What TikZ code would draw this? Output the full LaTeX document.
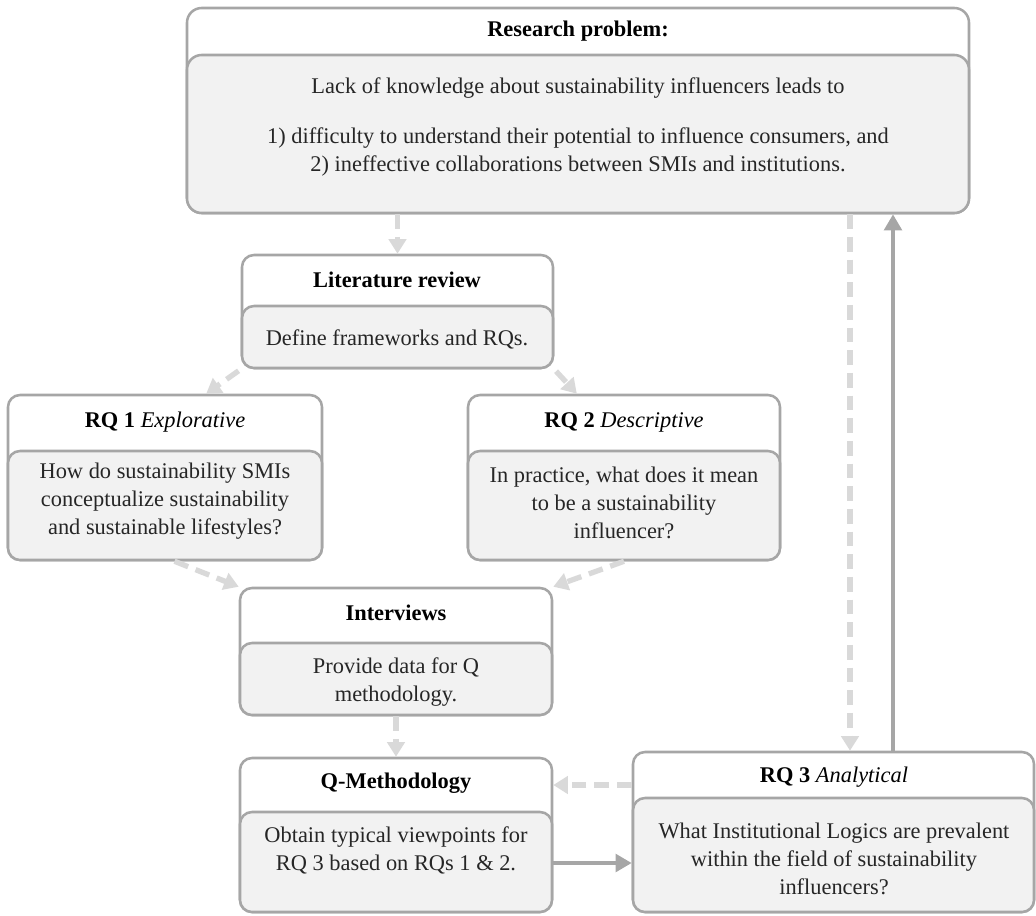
\documentclass[tikz,border=0pt]{standalone}
\usepackage{fontspec}
\setmainfont{Liberation Serif}
\usetikzlibrary{arrows.meta,calc,fit}

\definecolor{edge}{HTML}{A6A6A6}
\definecolor{panel}{HTML}{F2F2F2}
\definecolor{flow}{HTML}{D9D9D9}
\definecolor{ink}{HTML}{262626}

\tikzset{
  frame/.style={draw=edge, line width=1.9pt, rounded corners=9pt, fill=white, inner sep=0pt},
  panelbox/.style={frame, fill=panel},
  head/.style={font=\fontsize{16.8}{20}\selectfont, text=black, align=center, inner sep=0pt},
  body/.style={font=\fontsize{16.8}{21}\selectfont, text=ink, align=center, inner sep=0pt},
  softflow/.style={draw=flow, line width=4pt, dash pattern=on 11pt off 6pt,
    -{Triangle[length=11pt,width=13pt]}},
  hardflow/.style={draw=edge, line width=3.5pt, -{Triangle[length=12pt,width=13pt]}},
}

\begin{document}
\begin{tikzpicture}[x=0.75pt,y=-0.75pt]
\useasboundingbox (0,0) rectangle (1036,915);

% research problem
\node[frame, rounded corners=11pt, fit={(187,8) (969,213)}] (rp) {};
\node[panelbox, rounded corners=11pt, fit={(187,55) (969,213)}] (rpP) {};
\node[head] (rpT) at (578,31) {\textbf{Research problem:}};
\node[body] (rpA) at (578,88) {Lack of knowledge about sustainability influencers leads to};
\node[body] (rpB) at (578,152) {1) difficulty to understand their potential to influence consumers, and\\
  2) ineffective collaborations between SMIs and institutions.};

% literature review
\node[frame, fit={(242,255) (553,368)}] (lit) {};
\node[panelbox, fit={(242,306) (553,368)}] (litP) {};
\node[head] (litT) at (397,280) {\textbf{Literature review}};
\node[body] (litB) at (397,339) {Define frameworks and RQs.};

% RQ 1
\node[frame, fit={(8,395) (322,560)}] (rq1) {};
\node[panelbox, fit={(8,451) (322,560)}] (rq1P) {};
\node[head] (rq1T) at (165,422) {\textbf{RQ 1} \textit{Explorative}};
\node[body] (rq1B) at (165,501) {How do sustainability SMIs\\conceptualize sustainability\\and sustainable lifestyles?};

% RQ 2
\node[frame, fit={(468,395) (780,560)}] (rq2) {};
\node[panelbox, fit={(468,451) (780,560)}] (rq2P) {};
\node[head] (rq2T) at (624,422) {\textbf{RQ 2} \textit{Descriptive}};
\node[body] (rq2B) at (624,503) {In practice, what does it mean\\to be a sustainability\\influencer?};

% interviews
\node[frame, fit={(240,588) (552,715)}] (int) {};
\node[panelbox, fit={(240,643) (552,715)}] (intP) {};
\node[head] (intT) at (396,613) {\textbf{Interviews}};
\node[body] (intB) at (396,682) {Provide data for Q\\methodology.};

% Q-methodology
\node[frame, fit={(240,758) (552,912)}] (qm) {};
\node[panelbox, fit={(240,812) (552,912)}] (qmP) {};
\node[head] (qmT) at (396,783) {\textbf{Q-Methodology}};
\node[body] (qmB) at (396,850) {Obtain typical viewpoints for\\RQ 3 based on RQs 1 \& 2.};

% RQ 3
\node[frame, fit={(633,752) (1034,912)}] (rq3) {};
\node[panelbox, fit={(633,798) (1034,912)}] (rq3P) {};
\node[head] (rq3T) at (834,777) {\textbf{RQ 3} \textit{Analytical}};
\node[body] (rq3B) at (834,859) {What Institutional Logics are prevalent\\within the field of sustainability\\influencers?};

% helper positions for straight runs
\coordinate (down) at (850,0);
\coordinate (up) at (893,0);
\coordinate (qmlink) at (0,863);
\coordinate (qmback) at (0,785);

% connectors
\draw[softflow] (rp.south -| lit.north) -- (lit.north);
\draw[softflow, shorten <=2pt] (lit.south west) -- ($(rq1.north west)!0.63!(rq1.north east)$);
\draw[softflow, shorten <=2pt] (lit.south east) -- ($(rq2.north west)!0.35!(rq2.north east)$);
\draw[softflow] ($(rq1.south west)!0.53!(rq1.south east)$) -- (int.north west);
\draw[softflow] (rq2.south) -- (int.north east);
\draw[softflow] (int.south) -- (qm.north);
\draw[softflow] (rq3.west |- qmback) -- (qm.east |- qmback);
\draw[hardflow] (qm.east |- qmlink) -- (rq3.west |- qmlink);
\draw[softflow] (rp.south -| down) -- (rq3.north -| down);
\draw[hardflow] (rq3.north -| up) -- (rp.south -| up);
\end{tikzpicture}
\end{document}
